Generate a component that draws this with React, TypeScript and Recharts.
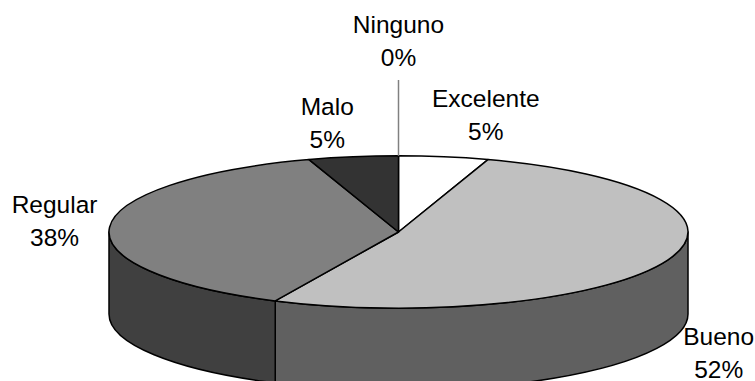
import React from "react";
import { PieChart, Pie } from "recharts";

// Survey results
const categories = ["Excelente", "Bueno", "Regular", "Malo", "Ninguno"];
const shares = [5, 52, 38, 5, 0];

// Greys for the top face and the outer wall of each slice
const topFills = ["#ffffff", "#c0c0c0", "#808080", "#333333", "#000000"];
const wallFills = ["#ffffff", "#606060", "#404040", "#333333", "#000000"];

// Label offset from the rim point at each slice's middle angle (x, first baseline)
const labelOffsets: Record<string, [number, number]> = {
  Excelente: [42, -50],
  Bueno: [51, 84.5],
  Regular: [-55, -14],
  Malo: [-26, -42],
  Ninguno: [0, -123],
};

const rows = categories.map((name, i) => ({
  name,
  value: shares[i],
  top: topFills[i],
  wall: wallFills[i],
}));

const WIDTH = 755;
const HEIGHT = 381;
const TILT = 76 / 289; // vertical squash of the disc
const DEPTH = 82; // wall height
const LEADER_TOP = 80;
const FONT = "'Liberation Sans', Arial, sans-serif";

const rimPoint = (cx: number, cy: number, r: number, angle: number) => {
  const rad = (angle * Math.PI) / 180;
  return { x: cx + r * Math.cos(rad), y: cy - r * TILT * Math.sin(rad) };
};

// One slice: the wall for whatever part faces the viewer, then the elliptical top.
const Slice3D = (props: any) => {
  const { cx, cy, outerRadius: r, startAngle, endAngle, payload } = props;
  const row = payload?.payload ?? payload;
  if (!row || startAngle === endAngle) return null;
  const ry = r * TILT;
  const hi = Math.max(startAngle, endAngle);
  const lo = Math.min(startAngle, endAngle);
  const a = rimPoint(cx, cy, r, hi);
  const b = rimPoint(cx, cy, r, lo);
  const large = hi - lo > 180 ? 1 : 0;
  const top = `M${cx},${cy}L${a.x},${a.y}A${r},${ry} 0 ${large} 1 ${b.x},${b.y}Z`;

  // The front half of the disc runs from angle 0 down to -180.
  const wallHi = Math.min(hi, 0);
  const wallLo = Math.max(lo, -180);
  let wall = null;
  if (wallHi > wallLo) {
    const p = rimPoint(cx, cy, r, wallHi);
    const q = rimPoint(cx, cy, r, wallLo);
    const d = `M${p.x},${p.y}A${r},${ry} 0 0 1 ${q.x},${q.y}L${q.x},${q.y + DEPTH}A${r},${ry} 0 0 0 ${p.x},${p.y + DEPTH}Z`;
    wall = <path d={d} fill={row.wall} stroke="#000" strokeWidth={1.5} strokeLinejoin="round" />;
  }
  return (
    <g>
      {wall}
      <path d={top} fill={row.top} stroke="#000" strokeWidth={1.5} strokeLinejoin="round" />
    </g>
  );
};

// Two-line label: category over percentage, with a leader for the empty slice.
const SliceLabel = (props: any) => {
  const { cx, cy, outerRadius: r, midAngle, name, value } = props;
  const rim = rimPoint(cx, cy, r, midAngle);
  const [dx, dy] = labelOffsets[name];
  const x = rim.x + dx;
  const y = rim.y + dy;
  return (
    <g>
      {value === 0 && <line x1={rim.x} y1={rim.y} x2={rim.x} y2={LEADER_TOP} stroke="#808080" strokeWidth={1.5} />}
      <text x={x} y={y} textAnchor="middle" fontFamily={FONT} fontSize={24.5} fill="#000">
        {name}
      </text>
      <text x={x} y={y + 33} textAnchor="middle" fontFamily={FONT} fontSize={24.5} fill="#000">
        {`${value}%`}
      </text>
    </g>
  );
};

export default function App() {
  return (
    <div style={{ position: "absolute", left: 0, top: 0, width: WIDTH, height: HEIGHT, background: "#fff" }}>
      <PieChart width={WIDTH} height={HEIGHT} margin={{ top: 0, right: 0, bottom: 0, left: 0 }}>
        <Pie
          data={rows}
          dataKey="value"
          nameKey="name"
          cx={398.5}
          cy={232}
          innerRadius={0}
          outerRadius={289.5}
          startAngle={90}
          endAngle={-270}
          stroke="#000"
          isAnimationActive={false}
          shape={Slice3D}
          label={SliceLabel}
          labelLine={false}
        />
      </PieChart>
    </div>
  );
}
